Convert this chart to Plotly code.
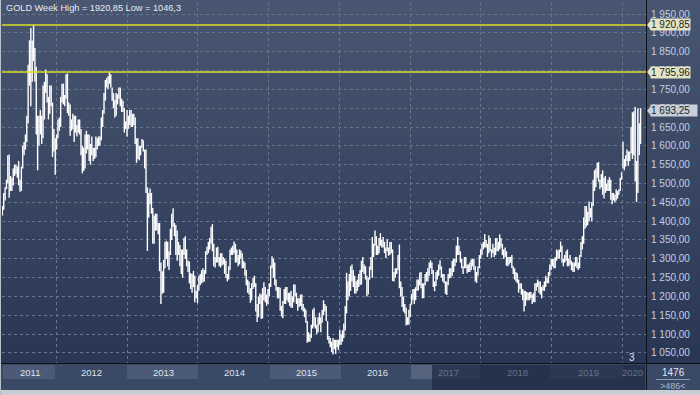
import plotly.graph_objects as go
import pandas as pd

# ---------------- data: weekly high / low per year ----------------
START = {2011: "2011-03-28", 2012: "2012-01-02", 2013: "2013-01-07", 2014: "2014-01-06",
         2015: "2015-01-05", 2016: "2016-01-04", 2017: "2017-01-02", 2018: "2018-01-01",
         2019: "2019-01-07", 2020: "2020-01-06"}

H2011 = [1440,1475,1490,1510,1575,1577,1520,1515,1540,1550,1550,1545,1560,1510,1545,1600,1610,1630,1680,1815,
         1880,1913,1880,1921,1860,1810,1680,1680,1695,1680,1760,1770,1803,1790,1730,1760,1760,1715,1645,1620]
L2011 = [1415,1430,1455,1485,1500,1462,1480,1480,1495,1520,1525,1515,1495,1478,1480,1540,1575,1590,1610,1660,
         1760,1705,1770,1825,1770,1630,1535,1600,1630,1605,1620,1670,1740,1715,1670,1685,1705,1570,1585,1523]

H2012 = [1630,1670,1675,1730,1765,1765,1735,1790,1792,1715,1710,1670,1685,1680,1680,1655,1670,1670,
         1645,1600,1595,1630,1640,1630,1630,1605,1625,1595,1595,1625,1620,1625,1625,1675,1695,
         1740,1775,1780,1785,1796,1790,1755,1740,1722,1740,1737,1755,1755,1725,1720,1700,1665,1695]
L2012 = [1590,1620,1640,1650,1715,1710,1705,1725,1687,1680,1627,1640,1645,1610,1635,1625,1635,1630,
         1575,1527,1533,1540,1580,1590,1560,1550,1575,1560,1565,1570,1590,1600,1600,1615,1650,
         1685,1720,1755,1750,1765,1755,1720,1700,1675,1680,1710,1725,1705,1690,1690,1635,1645,1625]

H2013 = [1680,1695,1695,1685,1685,1675,1620,1620,1600,1600,1618,1615,1590,1590,1490,1475,1487,
         1475,1435,1415,1420,1420,1395,1395,1290,1267,1297,1345,1348,1345,1320,1380,1420,1434,
         1395,1390,1375,1345,1337,1325,1325,1355,1360,1325,1295,1293,1262,1260,1268,1255,1215,1230]
L2013 = [1645,1655,1650,1650,1655,1605,1555,1565,1562,1575,1595,1585,1540,1475,1321,1410,1445,
         1420,1340,1340,1375,1375,1365,1267,1180,1207,1210,1275,1300,1280,1270,1310,1350,1385,
         1360,1310,1295,1310,1280,1260,1250,1310,1300,1280,1265,1235,1220,1210,1225,1185,1195,1182]

H2014 = [1255,1260,1270,1275,1270,1320,1332,1345,1355,1385,1392,1340,1305,1330,1332,1305,1315,
         1315,1305,1300,1295,1260,1280,1325,1330,1335,1346,1340,1325,1310,1325,1322,1315,1295,
         1290,1270,1245,1240,1222,1235,1250,1255,1235,1180,1200,1208,1205,1222,1238,1225,1205,1220]
L2014 = [1215,1230,1235,1238,1240,1260,1310,1315,1325,1340,1320,1280,1277,1290,1290,1280,1277,
         1282,1285,1260,1250,1240,1245,1270,1310,1310,1315,1290,1290,1280,1285,1300,1275,1275,
         1255,1230,1210,1205,1183,1190,1220,1225,1160,1132,1145,1180,1140,1142,1190,1185,1175,1180]

H2015 = [1235,1282,1307,1300,1290,1245,1225,1225,1223,1175,1188,1220,1225,1225,1210,1210,1215,
         1200,1232,1232,1210,1195,1195,1205,1205,1180,1170,1165,1135,1105,1100,1125,1165,1170,1145,
         1125,1145,1157,1145,1165,1190,1180,1175,1135,1095,1090,1080,1090,1085,1085,1085,1085]
L2015 = [1200,1225,1275,1250,1230,1215,1195,1195,1162,1147,1142,1180,1180,1190,1185,1175,1170,
         1170,1185,1200,1180,1162,1172,1175,1165,1160,1145,1130,1077,1080,1080,1090,1115,1120,1115,
         1100,1105,1125,1105,1130,1150,1160,1135,1085,1075,1065,1052,1046,1060,1047,1065,1058]

H2016 = [1112,1100,1110,1128,1175,1263,1240,1260,1280,1285,1270,1255,1240,1245,1260,1270,1295,
         1305,1285,1280,1255,1250,1280,1305,1358,1340,1375,1360,1335,1355,1368,1350,1358,1345,1330,
         1352,1330,1345,1345,1325,1265,1275,1275,1310,1338,1240,1225,1200,1180,1170,1145,1165]
L2016 = [1072,1072,1080,1090,1110,1155,1190,1200,1215,1240,1225,1208,1208,1215,1225,1230,1232,
         1265,1260,1245,1200,1205,1245,1270,1250,1305,1335,1310,1310,1315,1335,1330,1330,1315,1302,
         1320,1308,1310,1315,1241,1240,1250,1260,1270,1222,1200,1172,1160,1155,1123,1125,1125]

H2017 = [1180,1207,1220,1220,1225,1245,1245,1263,1265,1235,1235,1260,1265,1275,1290,1296,1290,
         1270,1240,1265,1270,1285,1296,1280,1260,1260,1240,1240,1260,1275,1275,1295,1300,1300,1335,
         1358,1335,1320,1300,1280,1305,1305,1285,1285,1290,1298,1300,1300,1280,1265,1280,1310]
L2017 = [1145,1178,1190,1180,1190,1215,1216,1230,1222,1195,1196,1230,1240,1240,1255,1275,1260,
         1225,1214,1228,1245,1255,1270,1250,1240,1235,1207,1204,1230,1248,1250,1255,1265,1280,1290,
         1310,1310,1290,1275,1260,1275,1275,1262,1265,1265,1270,1280,1270,1240,1236,1255,1275]

H2018 = [1325,1340,1345,1366,1350,1340,1362,1355,1325,1340,1330,1355,1355,1345,1365,1355,1340,1325,
         1330,1320,1305,1305,1305,1310,1280,1275,1265,1262,1245,1235,1235,1220,1215,1215,1212,
         1210,1212,1212,1205,1210,1235,1235,1245,1240,1240,1225,1230,1240,1255,1250,1265,1285,1300]
L2018 = [1300,1310,1325,1330,1330,1305,1315,1320,1303,1315,1305,1310,1320,1320,1325,1330,1310,1300,
         1305,1282,1280,1285,1290,1275,1260,1245,1240,1235,1210,1220,1205,1190,1160,1175,1190,
         1190,1190,1195,1180,1185,1185,1215,1225,1210,1205,1195,1215,1215,1225,1235,1235,1255,1270]

H2019 = [1300,1300,1305,1325,1322,1325,1346,1335,1300,1310,1320,1325,1300,1310,1295,1290,1290,
         1305,1305,1290,1310,1345,1360,1410,1440,1440,1425,1452,1435,1450,1510,1535,1540,1555,
         1557,1510,1525,1535,1515,1520,1500,1510,1517,1510,1475,1475,1470,1485,1480,1485,1515,1530]
L2019 = [1280,1275,1275,1295,1300,1300,1318,1290,1280,1290,1295,1280,1280,1285,1270,1266,1265,
         1280,1275,1270,1275,1305,1325,1340,1380,1385,1390,1400,1410,1400,1440,1480,1490,1515,
         1505,1485,1490,1470,1460,1475,1480,1480,1480,1457,1445,1455,1450,1455,1460,1470,1480,1510]

H2020 = [1611,1565,1575,1590,1585,1585,1650,1689,1692,1703,1560,1700,1660,1700]
L2020 = [1540,1535,1545,1560,1547,1560,1580,1565,1575,1505,1451,1475,1575,1605]

HIGHS = {2011: H2011, 2012: H2012, 2013: H2013, 2014: H2014, 2015: H2015,
         2016: H2016, 2017: H2017, 2018: H2018, 2019: H2019, 2020: H2020}
LOWS = {2011: L2011, 2012: L2012, 2013: L2013, 2014: L2014, 2015: L2015,
        2016: L2016, 2017: L2017, 2018: L2018, 2019: L2019, 2020: L2020}

YEARS = [2011, 2012, 2013, 2014, 2015, 2016, 2017, 2018, 2019, 2020]
Y_TICKS = [1050, 1100, 1150, 1200, 1250, 1300, 1350, 1400, 1450, 1500, 1550, 1600,
           1650, 1700, 1750, 1800, 1850, 1900, 1950]
Y_TICKTEXT = ["1 050,00", "1 100,00", "1 150,00", "1 200,00", "1 250,00", "1 300,00",
              "1 350,00", "1 400,00", "1 450,00", "1 500,00", "1 550,00", "1 600,00",
              "1 650,00", "1 700,00", "1 750,00", "1 800,00", "1 850,00", "1 900,00", "1 950,00"]
HIGH_LEVEL = 1920.85
MID_LEVEL = 1795.96
LAST = 1693.25
TITLE = "GOLD Week High = 1920,85 Low = 1046,3"

# ---------------- build bar segments ----------------
xs, ys = [], []
for yr in YEARS:
    dates = pd.date_range(START[yr], periods=len(HIGHS[yr]), freq="7D")
    for d, h, l in zip(dates, HIGHS[yr], LOWS[yr]):
        xs += [d, d, None]
        ys += [l, h, None]

# ---------------- layout geometry (pixels) ----------------
FW, FH = 700, 395
L, R, T, B = 2, 646, 2, 363
W, H = R - L, B - T


def fx(px):
    return (px - L) / W


def fy(py):
    return (B - py) / H


FONT = "Liberation Sans, Arial, sans-serif"
shapes = []

# vertical gradient background
N = 40
top_c = (72, 86, 113)
bot_c = (41, 55, 85)
for i in range(N):
    p0 = i * B / N
    p1 = (i + 1) * B / N + 0.6
    t = (i + 0.5) / N
    c = tuple(int(round(top_c[k] + (bot_c[k] - top_c[k]) * t)) for k in range(3))
    shapes.append(dict(type="rect", xref="paper", yref="paper", layer="below",
                       x0=fx(0), x1=fx(FW), y0=fy(p1), y1=fy(p0),
                       line=dict(width=0), fillcolor="rgb(%d,%d,%d)" % c))

# bottom strip
shapes.append(dict(type="rect", xref="paper", yref="paper", layer="above",
                   x0=fx(0), x1=fx(FW), y0=fy(390), y1=fy(363),
                   line=dict(width=0), fillcolor="#3a4966"))
for (a, b) in [(3, 55), (127, 198), (270, 341)]:
    shapes.append(dict(type="rect", xref="paper", yref="paper", layer="above",
                       x0=fx(a), x1=fx(b), y0=fy(379), y1=fy(365),
                       line=dict(width=0), fillcolor="#4b5a77"))
shapes.append(dict(type="rect", xref="paper", yref="paper", layer="above",
                   x0=fx(411), x1=fx(432), y0=fy(379), y1=fy(365),
                   line=dict(width=0), fillcolor="#55637d"))
shapes.append(dict(type="rect", xref="paper", yref="paper", layer="above",
                   x0=fx(432), x1=fx(645), y0=fy(390), y1=fy(365),
                   line=dict(width=0), fillcolor="#26324b"))
for (a, b) in [(432, 480), (550, 623)]:
    shapes.append(dict(type="rect", xref="paper", yref="paper", layer="above",
                       x0=fx(a), x1=fx(b), y0=fy(379), y1=fy(365),
                       line=dict(width=0), fillcolor="#2b3852"))
# light frame at bottom and left
shapes.append(dict(type="rect", xref="paper", yref="paper", layer="above",
                   x0=fx(0), x1=fx(FW), y0=fy(FH), y1=fy(390),
                   line=dict(width=0), fillcolor="#c8ccd3"))
shapes.append(dict(type="rect", xref="paper", yref="paper", layer="above",
                   x0=fx(0), x1=fx(1), y0=fy(FH), y1=fy(0),
                   line=dict(width=0), fillcolor="#b8c0cc"))
# black separators
shapes.append(dict(type="line", xref="paper", yref="paper", layer="above",
                   x0=fx(646.5), x1=fx(646.5), y0=fy(390), y1=fy(0),
                   line=dict(color="#0c1018", width=1)))
shapes.append(dict(type="line", xref="paper", yref="paper", layer="above",
                   x0=fx(1), x1=fx(FW), y0=fy(363.5), y1=fy(363.5),
                   line=dict(color="#0c1018", width=1)))
# bottom-right small divider
shapes.append(dict(type="line", xref="paper", yref="paper", layer="above",
                   x0=fx(656), x1=fx(690), y0=fy(379.5), y1=fy(379.5),
                   line=dict(color="#8a98b0", width=1)))

# horizontal yellow levels
for lv in [HIGH_LEVEL, MID_LEVEL]:
    shapes.append(dict(type="line", xref="paper", yref="y", layer="above",
                       x0=0, x1=1, y0=lv, y1=lv,
                       line=dict(color="#dede22", width=1.5)))

annotations = []


def flag(value, text, bg, width):
    u = 2.655  # value units per pixel
    shapes.append(dict(type="path", xref="paper", yref="y", layer="above",
                       path="M %f,%f L %f,%f L %f,%f Z" % (
                           fx(647), value, fx(651), value + 5 * u, fx(651), value - 5 * u),
                       line=dict(width=0), fillcolor=bg))
    annotations.append(dict(xref="paper", yref="y", x=fx(650), y=value,
                            xanchor="left", yanchor="middle", text=text, showarrow=False,
                            bgcolor=bg, borderpad=0, width=width, align="left",
                            font=dict(family=FONT, size=10, color="#1c1c1c")))


flag(HIGH_LEVEL, "1 920,85", "#e4e4c4", 39)
flag(MID_LEVEL, "1 795,96", "#e4e4c4", 39)
flag(LAST, "1 693,25", "#c9cfd9", 46)

# title
annotations.append(dict(xref="paper", yref="paper", x=fx(4), y=fy(8),
                        xanchor="left", yanchor="middle", text=TITLE, showarrow=False,
                        font=dict(family=FONT, size=9.2, color="#e6ecf6")))

# year labels
YEAR_X = [30, 92, 163, 234, 306, 377, 448, 517, 588, 632]
for yr, px in zip(YEARS, YEAR_X):
    col = "#dde4ee" if yr <= 2016 else "#64728c"
    annotations.append(dict(xref="paper", yref="paper", x=fx(px), y=fy(372),
                            xanchor="center", yanchor="middle", text=str(yr), showarrow=False,
                            font=dict(family=FONT, size=9.5, color=col)))

annotations.append(dict(xref="paper", yref="paper", x=fx(632), y=fy(357),
                        xanchor="center", yanchor="middle", text="3", showarrow=False,
                        font=dict(family=FONT, size=10, color="#dfe6f0")))
annotations.append(dict(xref="paper", yref="paper", x=fx(673), y=fy(372),
                        xanchor="center", yanchor="middle", text="1476", showarrow=False,
                        font=dict(family=FONT, size=10, color="#e2e8f2")))
annotations.append(dict(xref="paper", yref="paper", x=fx(673), y=fy(386),
                        xanchor="center", yanchor="middle", text="&gt;486&lt;", showarrow=False,
                        font=dict(family=FONT, size=9, color="#aab8d0")))

fig = go.Figure()
fig.add_trace(go.Scatter(x=xs, y=ys, mode="lines", line=dict(color="#ffffff", width=1.4),
                         hoverinfo="skip", showlegend=False, connectgaps=False))

GRID = "#66768f"
fig.update_layout(
    width=FW, height=FH,
    margin=dict(l=L, r=FW - R, t=T, b=FH - B, pad=0, autoexpand=False),
    paper_bgcolor="#33425e", plot_bgcolor="rgba(0,0,0,0)",
    showlegend=False, hovermode=False,
    shapes=shapes, annotations=annotations,
    xaxis=dict(type="date", range=["2011-03-26", "2020-05-04"],
               showgrid=True, gridcolor=GRID, griddash="3px,3px", gridwidth=1,
               tick0="2012-01-01", dtick="M12", showticklabels=False, ticks="",
               zeroline=False, showline=False, fixedrange=True, automargin=False),
    yaxis=dict(side="right", range=[1023.4, 1981.9], tickvals=Y_TICKS, ticktext=Y_TICKTEXT,
               showgrid=True, gridcolor=GRID, griddash="3px,3px", gridwidth=1,
               ticks="", ticklabelstandoff=4, zeroline=False, showline=False, automargin=False,
               tickfont=dict(family=FONT, size=10, color="#c3cfe4"), fixedrange=True),
)

fig.write_html("out.html", config={"displayModeBar": False},
               post_script="document.body.style.margin='0';document.body.style.padding='0';")
